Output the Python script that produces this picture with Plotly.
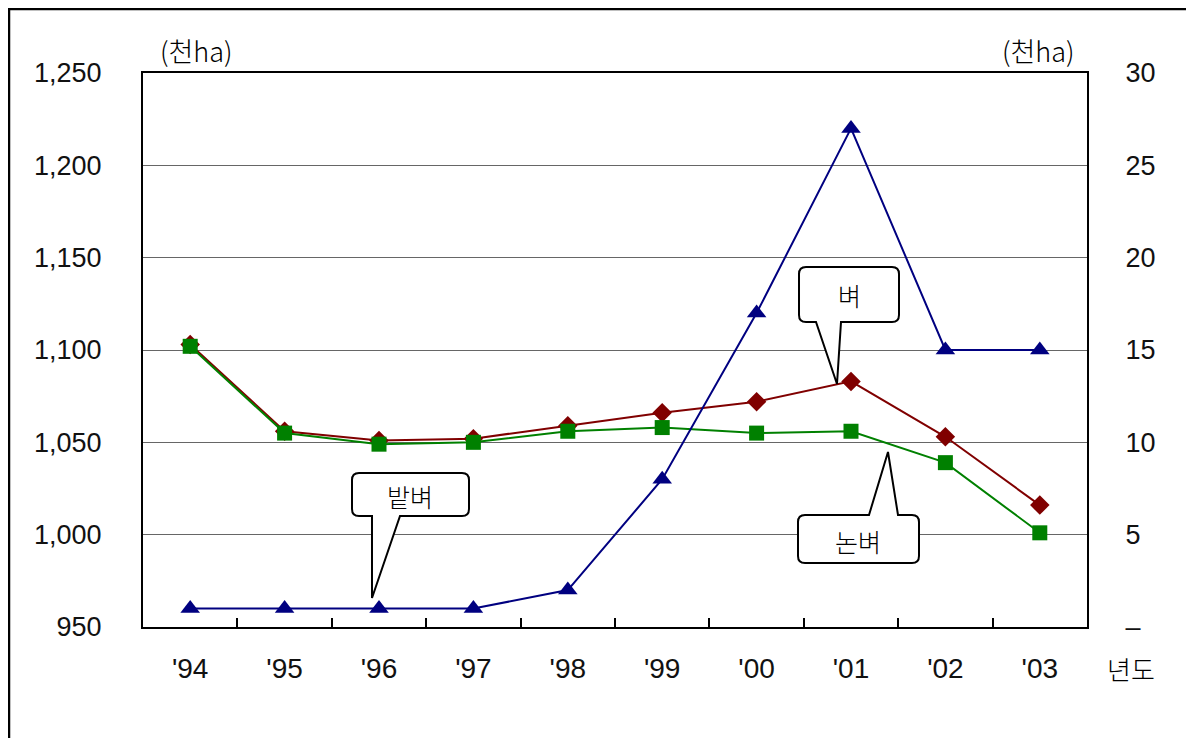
import plotly.graph_objects as go

# ---- data ----
years = ["'94", "'95", "'96", "'97", "'98", "'99", "'00", "'01", "'02", "'03"]
rice_total = [1103, 1056, 1051, 1052, 1059, 1066, 1072, 1083, 1053, 1016]   # 벼 (left axis)
rice_paddy = [1102, 1055, 1049, 1050, 1056, 1058, 1055, 1056, 1039, 1001]   # 논벼 (left axis)
rice_upland = [1, 1, 1, 1, 2, 8, 17, 27, 15, 15]                            # 밭벼 (right axis)

left_ticks = [950, 1000, 1050, 1100, 1150, 1200, 1250]
right_ticks = [0, 5, 10, 15, 20, 25, 30]
right_ticktext = ["–", "5", "10", "15", "20", "25", "30"]

W, H = 1194, 738
OFF = 8                      # page body margin
L, R, T, B = 143, 1087, 73, 627   # plot box in screen pixels

def px(x):
    return (x - L) / (R - L)

def py(y):
    return (B - y) / (B - T)

NUM_FONT = "Liberation Sans"
KR_FONT = "Noto Sans CJK KR"

fig = go.Figure()
fig.add_trace(go.Scatter(x=years, y=rice_total, name="벼", mode="lines+markers",
                         line=dict(color="#800000", width=2),
                         marker=dict(symbol="diamond", size=15, color="#800000")))
fig.add_trace(go.Scatter(x=years, y=rice_paddy, name="논벼", mode="lines+markers",
                         line=dict(color="#008000", width=2),
                         marker=dict(symbol="square", size=15, color="#008000")))
fig.add_trace(go.Scatter(x=years, y=rice_upland, name="밭벼", mode="lines+markers", yaxis="y2",
                         line=dict(color="#000080", width=2),
                         marker=dict(symbol="triangle-up", size=17, color="#000080")))

def callout(x0, y0, x1, y1, bx0, bx1, tip, side="bottom", c=7):
    tx, ty = tip
    P = lambda x, y: f"{px(x):.5f},{py(y):.5f}"
    parts = [f"M {P(x0 + c, y0)}"]
    if side == "top":
        parts += [f"L {P(bx0, y0)}", f"L {P(tx, ty)}", f"L {P(bx1, y0)}"]
    parts += [f"L {P(x1 - c, y0)}", f"Q {P(x1, y0)} {P(x1, y0 + c)}",
              f"L {P(x1, y1 - c)}", f"Q {P(x1, y1)} {P(x1 - c, y1)}"]
    if side == "bottom":
        parts += [f"L {P(bx1, y1)}", f"L {P(tx, ty)}", f"L {P(bx0, y1)}"]
    parts += [f"L {P(x0 + c, y1)}", f"Q {P(x0, y1)} {P(x0, y1 - c)}",
              f"L {P(x0, y0 + c)}", f"Q {P(x0, y0)} {P(x0 + c, y0)}", "Z"]
    return dict(type="path", xref="paper", yref="paper", path=" ".join(parts),
                line=dict(color="black", width=2), fillcolor="white", layer="above")

shapes = [
    # outer border
    dict(type="rect", xref="paper", yref="paper", x0=px(9), y0=py(760), x1=px(1220), y1=py(9),
         line=dict(color="black", width=2.5), layer="below"),
    callout(799, 267, 899, 322, 816, 841, (837, 384), "bottom"),
    callout(352, 473, 469, 516, 372, 400, (372, 598), "bottom"),
    callout(798, 515, 919, 563, 869, 898, (888, 452), "top"),
]

def label(text, x, y, size):
    return dict(text=text, x=px(x), y=py(y), xref="paper", yref="paper", showarrow=False,
                xanchor="center", yanchor="middle",
                font=dict(family=KR_FONT, size=size, color="black", weight=300))

annotations = [
    label("(천ha)", 196, 50, 27),
    label("(천ha)", 1038, 50, 27),
    label("년도", 1131, 668, 26),
    label("벼", 849, 295, 25),
    label("밭벼", 410, 496, 25),
    label("논벼", 858, 541, 25),
]

fig.update_layout(
    width=W, height=H,
    margin=dict(l=L - OFF, r=W - (R - OFF), t=T - OFF, b=H - (B - OFF), pad=0),
    paper_bgcolor="white", plot_bgcolor="white",
    showlegend=False,
    xaxis=dict(type="category", tickson="boundaries", ticks="inside", ticklen=9,
               tickcolor="black", tickwidth=1.5, showgrid=False,
               showline=True, linecolor="black", linewidth=2, mirror=True,
               range=[-0.5, 9.5], ticklabelstandoff=15,
               tickfont=dict(family=NUM_FONT, size=28, color="#111111")),
    yaxis=dict(range=[950, 1250], tickvals=left_ticks, tickformat=",",
               showgrid=True, gridcolor="#666666", gridwidth=1,
               ticks="inside", ticklen=7, tickcolor="#666666",
               showline=True, linecolor="black", linewidth=2,
               zeroline=False, ticklabelstandoff=34,
               tickfont=dict(family=NUM_FONT, size=27, color="#111111")),
    yaxis2=dict(range=[0, 30], tickvals=right_ticks, ticktext=right_ticktext,
                overlaying="y", side="right", showgrid=False,
                ticks="inside", ticklen=7, tickcolor="#666666",
                showline=True, linecolor="black", linewidth=2,
                zeroline=False, ticklabelstandoff=31,
                tickfont=dict(family=NUM_FONT, size=27, color="#111111")),
    shapes=shapes,
    annotations=annotations,
)

fig.write_html("out.html")
